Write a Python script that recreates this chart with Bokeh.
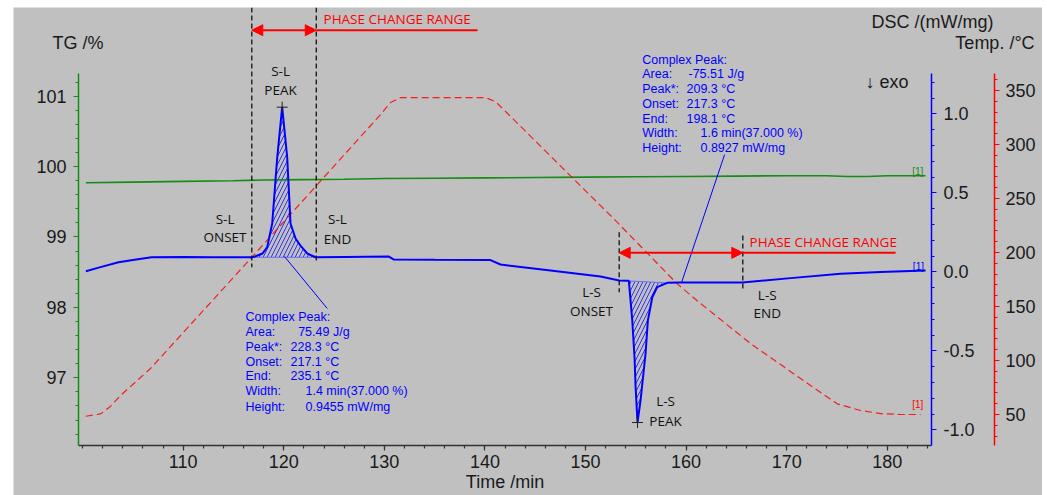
import numpy as np
from bokeh.plotting import figure
from bokeh.models import (Range1d, LinearAxis, FixedTicker, Label, Arrow, NormalHead,
                          PrintfTickFormatter)
from bokeh.embed import file_html
from bokeh.resources import INLINE

# ---------------- data ----------------
dsc_time = [100.32, 101.5, 103.57, 105.0, 106.85, 110.0, 113.0, 116.0, 116.82, 116.99, 117.89,
            118.35, 118.85, 119.35, 119.84, 120.34, 120.67, 121.17, 121.66, 122.33, 123.16,
            126.0, 130.41, 130.91, 135.0, 140.55, 141.55, 146.52, 151.50, 153.35, 154.31,
            154.48, 154.65, 154.88, 154.98, 155.17, 155.47, 155.97, 156.20, 156.64, 157.13,
            158.13, 159.45, 165.61, 170.39, 175.36, 179.34, 183.81]
dsc_value = [0.004, 0.025, 0.061, 0.075, 0.092, 0.094, 0.092, 0.092, 0.092, 0.093, 0.116,
             0.156, 0.306, 0.725, 1.042, 0.725, 0.306, 0.211, 0.166, 0.116, 0.092,
             0.094, 0.097, 0.078, 0.076, 0.074, 0.046, 0.008, -0.030, -0.055, -0.057,
             -0.182, -0.308, -0.550, -0.730, -0.954, -0.815, -0.517, -0.308, -0.161, -0.097,
             -0.070, -0.068, -0.068, -0.040, -0.013, -0.001, 0.008]

tg_time = [100.32, 105, 110, 115, 118, 122, 126, 130, 135, 140, 145, 150, 155, 160, 165,
           170, 174, 176, 178, 180, 183.8]
tg_value = [99.77, 99.78, 99.79, 99.80, 99.81, 99.815, 99.82, 99.83, 99.835, 99.84, 99.845,
            99.85, 99.855, 99.86, 99.865, 99.87, 99.87, 99.86, 99.86, 99.87, 99.87]

temp_time = [100.32, 101.78, 102.7, 103.77, 106.75, 116.82, 129.62, 130.61, 131.61, 140.06,
             141.05, 142.05, 152.99, 159.12, 161.44, 166.41, 171.38, 175.03, 177.35, 179.34,
             181.33, 183.32]
temp_value = [48.4, 50.6, 57.0, 67.6, 92.6, 195.6, 327.8, 338.9, 343.5, 343.5,
              339.8, 330.6, 229.6, 171.0, 152.8, 115.7, 83.3, 59.9, 53.7, 50.9, 50.0, 50.0]

x_ticks = [110, 120, 130, 140, 150, 160, 170, 180]
tg_ticks = [97, 98, 99, 100, 101]
dsc_ticks = [-1.0, -0.5, 0.0, 0.5, 1.0]
temp_ticks = [50, 100, 150, 200, 250, 300, 350]

# events (min)
sl_onset, sl_end = 116.82, 123.16       # integration limits S-L
ls_onset, ls_end = 153.35, 158.13       # integration limits L-S
sl_range = (116.82, 123.23)             # phase change range S-L
ls_range = (153.35, 165.64)             # phase change range L-S

left_labels = ["Complex Peak:", "Area:", "Peak*:", "Onset:", "End:", "Width:", "Height:"]
left_values = ["", "75.49 J/g", "228.3 °C", "217.1 °C", "235.1 °C", "1.4 min(37.000 %)", "0.9455 mW/mg"]
right_labels = ["Complex Peak:", "Area:", "Peak*:", "Onset:", "End:", "Width:", "Height:"]
right_values = ["", "-75.51 J/g", "209.3 °C", "217.3 °C", "198.1 °C", "1.6 min(37.000 %)", "0.8927 mW/mg"]

# ---------------- style ----------------
BG = "#c0c0c0"
GREEN = "#168c16"
BLUE = "#0000ff"
RED = "#ff0000"
TXT = "#1a1a1a"
ARIAL = "Liberation Sans"
CAL = "Open Sans"

# axis extents (data) and full frame extents
ax_x_lo, ax_x_hi = 99.59, 184.40
x_lo, x_hi = 93.127, 195.437
temp_axis_x = 190.66
dsc_ax_lo, dsc_lo, dsc_hi = -1.0994, -1.4158, 1.6728
tg_ax_lo, tg_lo, tg_hi = 96.038, 95.328, 102.26
t_ax_lo, t_lo, t_hi = 21.3, -25.0, 426.9

p = figure(width=1029, height=488, margin=(7, 0, 0, 13),
           x_range=Range1d(x_lo, x_hi), y_range=Range1d(dsc_lo, dsc_hi),
           output_backend="svg", toolbar_location=None,
           x_axis_location=None, y_axis_location=None,
           min_border_left=0, min_border_right=0, min_border_top=0, min_border_bottom=0)
p.extra_y_ranges = {"tg": Range1d(tg_lo, tg_hi), "temp": Range1d(t_lo, t_hi)}
p.background_fill_color = BG
p.border_fill_color = BG
p.outline_line_color = None
p.xgrid.visible = False
p.ygrid.visible = False


def style_axis(ax, color, label_color=TXT):
    ax.axis_line_color = color
    ax.axis_line_width = 1.5
    ax.major_tick_line_color = color
    ax.minor_tick_line_color = color
    ax.major_tick_line_width = 1.2
    ax.minor_tick_line_width = 1.2
    ax.major_tick_in = 0
    ax.major_tick_out = 5
    ax.minor_tick_in = 0
    ax.minor_tick_out = 3
    ax.major_label_text_font = ARIAL
    ax.major_label_text_font_size = "18px"
    ax.major_label_text_color = label_color


xaxis = LinearAxis(ticker=FixedTicker(ticks=x_ticks, minor_ticks=list(range(100, 185, 2))),
                   bounds=(ax_x_lo, ax_x_hi), fixed_location=dsc_ax_lo)
style_axis(xaxis, "#333333")
xaxis.major_label_standoff = 4
p.add_layout(xaxis, "below")

tg_axis = LinearAxis(y_range_name="tg",
                     ticker=FixedTicker(ticks=tg_ticks,
                                        minor_ticks=[round(96.2 + 0.2 * i, 1) for i in range(26)]),
                     bounds=(tg_ax_lo, 101.322), fixed_location=ax_x_lo)
style_axis(tg_axis, GREEN)
tg_axis.major_label_standoff = 7
p.add_layout(tg_axis, "left")

dsc_axis = LinearAxis(ticker=FixedTicker(ticks=dsc_ticks,
                                         minor_ticks=[round(-1.0 + 0.1 * i, 1) for i in range(23)]),
                      bounds=(dsc_ax_lo, 1.255), formatter=PrintfTickFormatter(format="%.1f"),
                      fixed_location=ax_x_hi)
style_axis(dsc_axis, BLUE)
dsc_axis.major_label_standoff = 7
p.add_layout(dsc_axis, "right")

temp_axis = LinearAxis(y_range_name="temp",
                       ticker=FixedTicker(ticks=temp_ticks, minor_ticks=list(range(30, 361, 10))),
                       bounds=(t_ax_lo, 365.7), fixed_location=temp_axis_x)
style_axis(temp_axis, RED)
temp_axis.major_label_standoff = 6
p.add_layout(temp_axis, "right")

# ---------------- hatched peak areas ----------------
dt = np.array(dsc_time)
dv = np.array(dsc_value)
for on, en in [(sl_onset, sl_end), (ls_onset, ls_end)]:
    m = (dt >= on) & (dt <= en)
    xs = dt[m]
    base = np.interp(xs, [on, en], [np.interp(on, dt, dv), np.interp(en, dt, dv)])
    p.varea(x=xs, y1=base, y2=dv[m], fill_alpha=0, hatch_pattern="/",
            hatch_color=BLUE, hatch_alpha=0.75, hatch_scale=8, hatch_weight=1)
    p.line(x=[on, en], y=[np.interp(on, dt, dv), np.interp(en, dt, dv)],
           line_color="#6a6aff", line_width=1)

# ---------------- curves ----------------
p.line(tg_time, tg_value, y_range_name="tg", line_color=GREEN, line_width=1.6)
p.line(temp_time, temp_value, y_range_name="temp", line_color=RED, line_width=1.2,
       line_dash="7 4", line_alpha=0.85)
p.line(dsc_time, dsc_value, line_color=BLUE, line_width=2)

# peak markers
i_max = int(np.argmax(dv))
i_min = int(np.argmin(dv))
p.scatter([dt[i_max], dt[i_min]], [dv[i_max], dv[i_min]], marker="cross", size=11,
          line_color="#202020", line_width=1)

# leader lines to result boxes
p.segment(x0=[120.07, 159.55], y0=[0.097, -0.068], x1=[124.32, 163.83], y1=[-0.232, 0.742],
          line_color=BLUE, line_width=1)

# dashed limit lines
p.segment(x0=[sl_range[0], sl_range[1], ls_range[0], ls_range[1]],
          y0=[dsc_hi, dsc_hi, 0.251, 0.230],
          x1=[sl_range[0], sl_range[1], ls_range[0], ls_range[1]],
          y1=[0.029, 0.054, -0.129, -0.118],
          line_color="#111111", line_width=1.3, line_dash="5 3")

# phase change range arrows
for (a, b), ya, xend in [(sl_range, 1.529, 139.26), (ls_range, 0.120, 180.83)]:
    p.add_layout(Arrow(start=NormalHead(size=11, fill_color=RED, line_color=RED),
                       end=NormalHead(size=11, fill_color=RED, line_color=RED),
                       x_start=a, y_start=ya, x_end=b, y_end=ya,
                       line_color=RED, line_width=2))
    p.segment(x0=[b], y0=[ya], x1=[xend], y1=[ya], line_color=RED, line_width=2)


def lab(x, y, text, font=ARIAL, size="13px", color=TXT, align="left", baseline="middle"):
    p.add_layout(Label(x=x, y=y, text=text, text_font=font, text_font_size=size,
                       text_color=color, text_align=align, text_baseline=baseline))


# black event labels
for t, x, y in [("S-L", 119.68, 1.268), ("PEAK", 119.68, 1.152),
                ("S-L", 114.16, 0.335), ("ONSET", 114.16, 0.223),
                ("S-L", 125.34, 0.337), ("END", 125.34, 0.209),
                ("L-S", 150.6, -0.129), ("ONSET", 150.6, -0.245),
                ("L-S", 168.07, -0.144), ("END", 168.07, -0.262),
                ("L-S", 157.96, -0.815), ("PEAK", 157.96, -0.947)]:
    lab(x, y, t, font=CAL, size="13.5px", color="#111111", align="center")

lab(123.95, 1.597, "PHASE CHANGE RANGE", font=CAL, size="13.5px", color=RED)
lab(166.31, 0.187, "PHASE CHANGE RANGE", font=CAL, size="13.5px", color=RED)

# result boxes
left_y = [-0.283, -0.384, -0.477, -0.569, -0.662, -0.757, -0.856]
left_vx = [None, 121.43, 120.67, 120.67, 120.67, 122.16, 122.16]
right_y = [1.342, 1.249, 1.156, 1.063, 0.970, 0.877, 0.785]
right_vx = [None, 160.24, 160.04, 160.04, 160.04, 161.43, 161.43]
for i in range(7):
    lab(116.19, left_y[i], left_labels[i], size="12.5px", color=BLUE)
    if left_values[i]:
        lab(left_vx[i], left_y[i], left_values[i], size="12.5px", color=BLUE)
    lab(155.64, right_y[i], right_labels[i], size="12.5px", color=BLUE)
    if right_values[i]:
        lab(right_vx[i], right_y[i], right_values[i], size="12.5px", color=BLUE)

# misc texts
lab(177.84, 1.200, "↓ exo", size="18px")
lab(183.04, 0.637, "[1]", size="10px", color=GREEN, align="center")
lab(183.1, 0.034, "[1]", size="10px", color=BLUE, align="center")
lab(183.04, -0.840, "[1]", size="10px", color=RED, align="center")

# axis titles
lab(97.0, 1.451, "TG /%", size="18px")
lab(190.57, 1.580, "DSC /(mW/mg)", size="18px", align="right")
lab(194.65, 1.447, "Temp. /°C", size="18px", align="right")
lab((ax_x_lo + ax_x_hi) / 2, -1.331, "Time /min", size="18px", align="center")

open("out.html", "w").write(file_html(p, INLINE))
